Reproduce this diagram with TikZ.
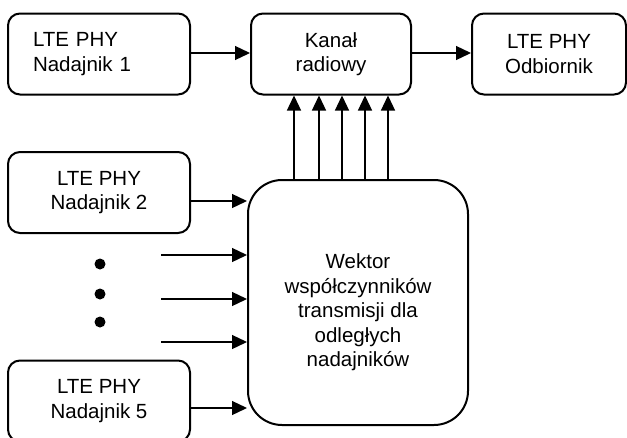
\documentclass[tikz,border=0pt]{standalone}
\usepackage{fontspec}
\setmainfont{Liberation Sans}
\usetikzlibrary{arrows.meta,calc}
\begin{document}
\begin{tikzpicture}[x=1pt,y=1pt,
  box/.style={draw=black, line width=2pt, rounded corners=12pt, inner sep=0pt,
    minimum height=81pt, align=center, font=\fontsize{20.5}{24.5}\selectfont},
  bigbox/.style={box, rounded corners=34pt, minimum width=220pt, minimum height=245pt},
  arr/.style={line width=1.3pt, -{Triangle[length=15pt,width=14pt]}},
  dotmark/.style={circle, fill=black, inner sep=0pt, minimum size=11pt}
]
\useasboundingbox (0,0) rectangle (627,-437);
% top row
\node[box, minimum width=182pt, text width=132pt, align=left] (N1) at (99,-54) {LTE PHY\\Nadajnik 1};
\node[box, minimum width=160pt] (K) at (331,-54) {Kanał\\radiowy};
\node[box, minimum width=154pt] (O) at (549,-54) {LTE PHY\\Odbiornik};
% left column
\node[box, minimum width=182pt] (N2) at (99,-192.5) {LTE PHY\\Nadajnik 2};
\node[box, minimum width=182pt] (N5) at (99,-401) {LTE PHY\\Nadajnik 5};
% big box
\node[bigbox, label={[align=center, font=\fontsize{20.5}{24.5}\selectfont, yshift=-10pt]center:Wektor\\współczynników\\transmisji dla\\odległych\\nadajników}] (W) at (358,-302.5) {};
% dots
\node[dotmark] (d1) at (100,-264) {};
\node[dotmark] (d2) at (100,-294) {};
\node[dotmark] (d3) at (100,-322) {};
% free ends
\coordinate (a1) at (161,-255);
\coordinate (a2) at (161,-299);
\coordinate (a3) at (161,-342);
% connectors
\draw[arr] (N1.east |- 0,-53) -- (K.west |- 0,-53);
\draw[arr] (K.east |- 0,-53) -- (O.west |- 0,-53);
\draw[arr] ([yshift=-8.5pt]N2.east) -- ([yshift=-8.5pt]N2.east -| W.west);
\draw[arr] (a1) -- (a1 -| W.west);
\draw[arr] (a2) -- (a2 -| W.west);
\draw[arr] (a3) -- (a3 -| W.west);
\draw[arr] ([yshift=-7pt]N5.east) -- ([yshift=-7pt]N5.east -| W.west);
\foreach \dx in {-37,-12,11,34,57}{
  \draw[arr] ([xshift=\dx pt]K.south |- W.north) -- ([xshift=\dx pt]K.south);
}
\end{tikzpicture}
\end{document}
